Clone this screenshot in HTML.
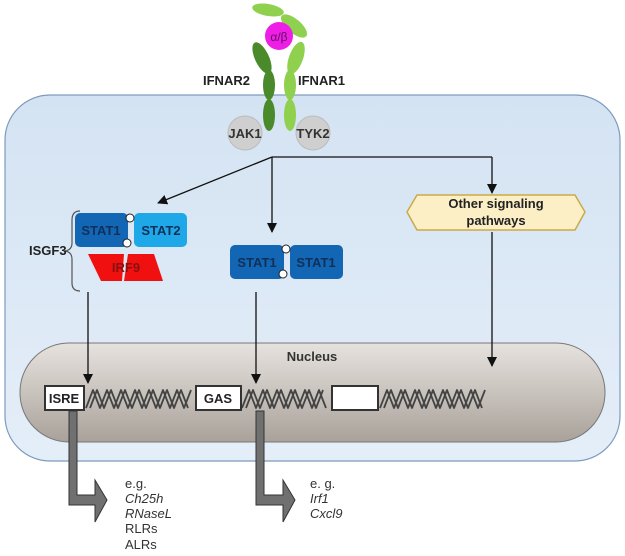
<!DOCTYPE html>
<html><head><style>body{margin:0;background:#fff}svg{display:block}text{font-family:"Liberation Sans",Arial,sans-serif}</style></head><body>
<svg width="625" height="556" viewBox="0 0 625 556" xmlns="http://www.w3.org/2000/svg">
<defs>
<linearGradient id="cell" x1="0" y1="0" x2="0" y2="1"><stop offset="0" stop-color="#d4e3f3"/><stop offset="1" stop-color="#e4eef8"/></linearGradient>
<linearGradient id="nuc" x1="0" y1="0" x2="0" y2="1"><stop offset="0" stop-color="#e6e2de"/><stop offset="0.5" stop-color="#c9c3bd"/><stop offset="1" stop-color="#a9a19a"/></linearGradient>
<marker id="ah" markerWidth="10" markerHeight="10" refX="9" refY="5" orient="auto" markerUnits="userSpaceOnUse"><path d="M0,0 L10,5 L0,10 z" fill="#111"/></marker>
</defs>
<rect x="5" y="95" width="615" height="366" rx="45" fill="url(#cell)" stroke="#7d9bbd" stroke-width="1.2"/>
<g>
<ellipse cx="268" cy="10" rx="16" ry="6" transform="rotate(10 268 10)" fill="#8fd14f"/>
<ellipse cx="294" cy="26" rx="16" ry="7" transform="rotate(40 294 26)" fill="#8fd14f"/>
<ellipse cx="262" cy="58" rx="7" ry="17" transform="rotate(-25 262 58)" fill="#4a8a2a"/>
<ellipse cx="296" cy="58" rx="7" ry="17" transform="rotate(20 296 58)" fill="#8fd14f"/>
<ellipse cx="269" cy="85" rx="6" ry="15" fill="#4a8a2a"/>
<ellipse cx="269" cy="115" rx="6" ry="16" fill="#4a8a2a"/>
<ellipse cx="290" cy="85" rx="6" ry="15" fill="#8fd14f"/>
<ellipse cx="290" cy="115" rx="6" ry="16" fill="#8fd14f"/>
<circle cx="279" cy="36" r="14" fill="#ee1ee6"/>
<text x="279" y="41" font-size="12" text-anchor="middle" fill="#601060">α/β</text>
</g>
<text x="203" y="85" font-size="13" font-weight="bold" fill="#222">IFNAR2</text>
<text x="298" y="85" font-size="13" font-weight="bold" fill="#222">IFNAR1</text>
<circle cx="245" cy="133" r="17" fill="#cfcfcf" stroke="#bbb"/>
<circle cx="313" cy="133" r="17" fill="#cfcfcf" stroke="#bbb"/>
<text x="245" y="138" font-size="13" font-weight="bold" text-anchor="middle" fill="#333">JAK1</text>
<text x="313" y="138" font-size="13" font-weight="bold" text-anchor="middle" fill="#333">TYK2</text>
<g stroke="#111" stroke-width="1.3" fill="none">
<polyline points="492,157 272,157"/>
<line x1="492" y1="157" x2="492" y2="193" marker-end="url(#ah)"/>
<line x1="272" y1="157" x2="272" y2="232" marker-end="url(#ah)"/>
<line x1="272" y1="157" x2="158" y2="203" marker-end="url(#ah)"/>
</g>
<polygon points="417,195 575,195 585,212 575,230 417,230 407,212" fill="#fcefc6" stroke="#c9aa4a" stroke-width="1.5"/>
<text x="496" y="208" font-size="13" font-weight="bold" text-anchor="middle" fill="#222">Other signaling</text>
<text x="496" y="225" font-size="13" font-weight="bold" text-anchor="middle" fill="#222">pathways</text>
<path d="M80,211 Q72,211 72,220 L72,243 Q72,250 65,251 Q72,252 72,259 L72,283 Q72,291 80,291" fill="none" stroke="#555" stroke-width="1.2"/>
<text x="29" y="255" font-size="13" font-weight="bold" fill="#222">ISGF3</text>
<rect x="75" y="213" width="53" height="34" rx="5" fill="#1266b4"/>
<rect x="134" y="213" width="53" height="34" rx="5" fill="#1fa8e8"/>
<text x="101" y="235" font-size="13" font-weight="bold" text-anchor="middle" fill="#10305a">STAT1</text>
<text x="161" y="235" font-size="13" font-weight="bold" text-anchor="middle" fill="#10305a">STAT2</text>
<polygon points="88,254 124,254 122,281 101,281" fill="#f01010"/>
<polygon points="128,254 154,254 163,281 124,281" fill="#f01010"/>
<text x="126" y="272" font-size="13" font-weight="bold" text-anchor="middle" fill="#8a1010">IRF9</text>
<circle cx="130" cy="218" r="4" fill="#fff" stroke="#222"/>
<circle cx="127" cy="243" r="4" fill="#fff" stroke="#222"/>
<rect x="230" y="245" width="54" height="34" rx="5" fill="#1266b4"/>
<rect x="290" y="245" width="53" height="34" rx="5" fill="#1266b4"/>
<text x="257" y="267" font-size="13" font-weight="bold" text-anchor="middle" fill="#10305a">STAT1</text>
<text x="316" y="267" font-size="13" font-weight="bold" text-anchor="middle" fill="#10305a">STAT1</text>
<circle cx="286" cy="249" r="4" fill="#fff" stroke="#222"/>
<circle cx="283" cy="274" r="4" fill="#fff" stroke="#222"/>
<rect x="20" y="343" width="585" height="99" rx="49" fill="url(#nuc)" stroke="#777"/>
<text x="312" y="361" font-size="13" font-weight="bold" text-anchor="middle" fill="#333">Nucleus</text>
<g stroke="#111" stroke-width="1.3" fill="none">
<line x1="492" y1="232" x2="492" y2="366" marker-end="url(#ah)"/>
<line x1="88" y1="292" x2="88" y2="383" marker-end="url(#ah)"/>
<line x1="256" y1="292" x2="256" y2="383" marker-end="url(#ah)"/>
</g>
<g fill="none" stroke="#444" stroke-width="1.8" stroke-linejoin="round">
<path d="M86,408 l7,-18 l7,18 l7,-18 l7,18 l7,-18 l7,18 l7,-18 l7,18 l7,-18 l7,18 l7,-18 l7,18 l7,-18 l7,18 l7,-18"/>
<path d="M90,408 l7,-18 l7,18 l7,-18 l7,18 l7,-18 l7,18 l7,-18 l7,18 l7,-18 l7,18 l7,-18 l7,18 l7,-18 l7,18"/>
<path d="M242,408 l7,-18 l7,18 l7,-18 l7,18 l7,-18 l7,18 l7,-18 l7,18 l7,-18 l7,18 l7,-18 l7,18"/>
<path d="M246,408 l7,-18 l7,18 l7,-18 l7,18 l7,-18 l7,18 l7,-18 l7,18 l7,-18 l7,18 l7,-18"/>
<path d="M380,408 l7,-18 l7,18 l7,-18 l7,18 l7,-18 l7,18 l7,-18 l7,18 l7,-18 l7,18 l7,-18 l7,18 l7,-18 l7,18 l7,-18"/>
<path d="M384,408 l7,-18 l7,18 l7,-18 l7,18 l7,-18 l7,18 l7,-18 l7,18 l7,-18 l7,18 l7,-18 l7,18 l7,-18 l7,18"/>
</g>
<rect x="45" y="386" width="39" height="24" fill="#fff" stroke="#333" stroke-width="2"/>
<text x="64" y="403" font-size="13" font-weight="bold" text-anchor="middle" fill="#222">ISRE</text>
<rect x="196" y="386" width="45" height="24" fill="#fff" stroke="#333" stroke-width="2"/>
<text x="218" y="403" font-size="13" font-weight="bold" text-anchor="middle" fill="#222">GAS</text>
<rect x="332" y="386" width="46" height="24" fill="#fff" stroke="#333" stroke-width="2"/>
<path d="M69,411 L77,411 L77,495 L95,495 L95,480 L107,500 L95,522 L95,505 L69,505 Z" fill="#707070" stroke="#333" stroke-width="1"/>
<path d="M256,411 L264,411 L264,495 L283,495 L283,480 L295,500 L283,522 L283,505 L256,505 Z" fill="#707070" stroke="#333" stroke-width="1"/>
<g font-size="13" fill="#333">
<text x="125" y="488">e.g.</text>
<text x="125" y="503" font-style="italic">Ch25h</text>
<text x="125" y="518" font-style="italic">RNaseL</text>
<text x="125" y="533">RLRs</text>
<text x="125" y="549">ALRs</text>
<text x="310" y="488">e. g.</text>
<text x="310" y="503" font-style="italic">Irf1</text>
<text x="310" y="518" font-style="italic">Cxcl9</text>
</g>
</svg>
</body></html>
